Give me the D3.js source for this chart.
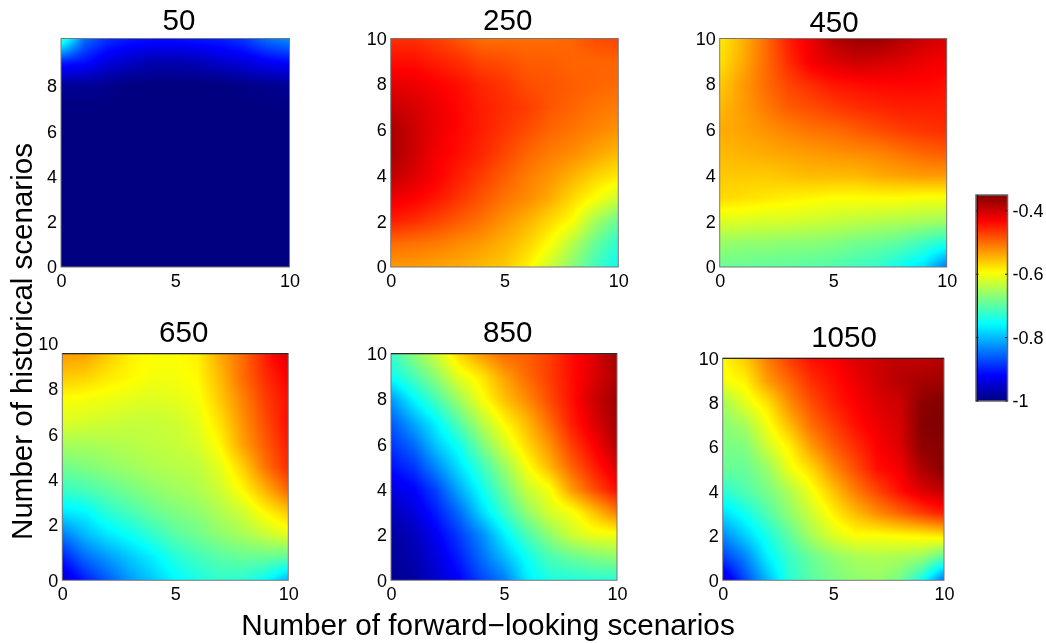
<!DOCTYPE html>
<html><head><meta charset="utf-8">
<script src="https://cdn.jsdelivr.net/npm/d3@7/dist/d3.min.js"></script>
<style>
html,body{margin:0;padding:0;background:#fff;overflow:hidden}
#wrap{position:relative;width:1046px;height:643px}
canvas{position:absolute;display:block}
svg{position:absolute;left:0;top:0}
text{font-family:"Liberation Sans",Arial,sans-serif;fill:#000}
</style></head><body><div id="wrap"></div>
<script>
// Rows run from y=10 (top) to y=0 (bottom); columns from x=0 to x=10.
const v50=[
[-.72,-.85,-.89,-.905,-.91,-.91,-.905,-.90,-.885,-.85,-.83],
[-.90,-.91,-.94,-.955,-.97,-.97,-.965,-.95,-.94,-.925,-.915],
[-.985,-.985,-.99,-1,-1,-1,-1,-1,-.995,-.99,-.985],
[-1,-1,-1,-1,-1,-1,-1,-1,-1,-1,-1],
[-1,-1,-1,-1,-1,-1,-1,-1,-1,-1,-1],
[-1,-1,-1,-1,-1,-1,-1,-1,-1,-1,-1],
[-1,-1,-1,-1,-1,-1,-1,-1,-1,-1,-1],
[-1,-1,-1,-1,-1,-1,-1,-1,-1,-1,-1],
[-1,-1,-1,-1,-1,-1,-1,-1,-1,-1,-1],
[-1,-1,-1,-1,-1,-1,-1,-1,-1,-1,-1],
[-1,-1,-1,-1,-1,-1,-1,-1,-1,-1,-1]];
const v250=[
[-.46,-.46,-.47,-.485,-.50,-.50,-.50,-.50,-.495,-.48,-.475],
[-.44,-.44,-.45,-.46,-.475,-.48,-.49,-.49,-.495,-.495,-.495],
[-.415,-.42,-.43,-.44,-.455,-.465,-.48,-.485,-.49,-.495,-.50],
[-.395,-.405,-.42,-.435,-.45,-.46,-.47,-.485,-.495,-.505,-.51],
[-.375,-.40,-.42,-.435,-.45,-.465,-.48,-.495,-.505,-.515,-.525],
[-.375,-.40,-.425,-.44,-.455,-.475,-.495,-.51,-.52,-.535,-.55],
[-.39,-.41,-.43,-.45,-.47,-.49,-.51,-.525,-.545,-.565,-.58],
[-.42,-.43,-.445,-.465,-.485,-.505,-.52,-.54,-.57,-.595,-.625],
[-.45,-.46,-.475,-.49,-.505,-.525,-.545,-.57,-.595,-.65,-.69],
[-.50,-.505,-.51,-.52,-.53,-.545,-.565,-.595,-.64,-.69,-.73],
[-.53,-.53,-.535,-.54,-.55,-.56,-.585,-.625,-.67,-.715,-.75]];
const v450=[
[-.58,-.545,-.50,-.45,-.42,-.385,-.37,-.37,-.385,-.40,-.41],
[-.575,-.54,-.50,-.46,-.425,-.41,-.40,-.405,-.41,-.42,-.425],
[-.56,-.53,-.50,-.475,-.46,-.445,-.44,-.435,-.435,-.435,-.44],
[-.55,-.53,-.51,-.49,-.48,-.47,-.46,-.455,-.45,-.45,-.45],
[-.54,-.535,-.525,-.515,-.505,-.50,-.49,-.48,-.47,-.465,-.46],
[-.55,-.545,-.54,-.535,-.53,-.525,-.52,-.515,-.505,-.495,-.49],
[-.56,-.56,-.56,-.555,-.55,-.55,-.55,-.54,-.535,-.53,-.53],
[-.57,-.575,-.58,-.585,-.59,-.595,-.595,-.595,-.595,-.60,-.60],
[-.615,-.615,-.62,-.62,-.625,-.63,-.635,-.64,-.645,-.65,-.655],
[-.66,-.665,-.665,-.67,-.67,-.675,-.685,-.69,-.70,-.72,-.74],
[-.69,-.69,-.695,-.695,-.70,-.705,-.715,-.725,-.75,-.775,-.84]];
const v650=[
[-.53,-.535,-.56,-.585,-.595,-.595,-.585,-.54,-.50,-.45,-.41],
[-.56,-.565,-.58,-.59,-.60,-.60,-.59,-.55,-.50,-.46,-.43],
[-.595,-.60,-.605,-.61,-.615,-.61,-.60,-.56,-.515,-.47,-.44],
[-.615,-.62,-.625,-.63,-.63,-.625,-.61,-.575,-.525,-.48,-.44],
[-.65,-.65,-.645,-.64,-.635,-.63,-.62,-.59,-.535,-.49,-.45],
[-.685,-.675,-.665,-.655,-.645,-.64,-.635,-.61,-.565,-.505,-.46],
[-.72,-.71,-.695,-.68,-.665,-.655,-.645,-.625,-.59,-.545,-.495],
[-.77,-.76,-.73,-.71,-.69,-.675,-.665,-.645,-.625,-.59,-.56],
[-.84,-.80,-.77,-.75,-.725,-.70,-.685,-.665,-.65,-.63,-.61],
[-.90,-.85,-.82,-.79,-.765,-.735,-.715,-.70,-.69,-.69,-.695],
[-.95,-.90,-.86,-.82,-.79,-.76,-.74,-.725,-.73,-.75,-.80]];
const v850=[
[-.72,-.67,-.625,-.57,-.53,-.50,-.49,-.47,-.44,-.41,-.37],
[-.75,-.71,-.665,-.61,-.58,-.535,-.50,-.47,-.44,-.41,-.38],
[-.82,-.76,-.71,-.655,-.60,-.555,-.52,-.48,-.44,-.40,-.37],
[-.86,-.81,-.76,-.70,-.64,-.59,-.55,-.50,-.45,-.41,-.375],
[-.885,-.85,-.79,-.745,-.68,-.62,-.57,-.525,-.47,-.43,-.385],
[-.91,-.885,-.83,-.775,-.72,-.66,-.60,-.55,-.495,-.45,-.41],
[-.94,-.92,-.875,-.81,-.75,-.69,-.63,-.60,-.53,-.48,-.44],
[-.965,-.94,-.90,-.85,-.78,-.72,-.665,-.62,-.60,-.555,-.51],
[-.98,-.96,-.925,-.88,-.83,-.765,-.71,-.665,-.625,-.605,-.60],
[-.985,-.97,-.94,-.90,-.85,-.80,-.75,-.71,-.69,-.675,-.665],
[-.99,-.98,-.95,-.92,-.875,-.84,-.77,-.74,-.735,-.73,-.73]];
const v1050=[
[-.59,-.56,-.51,-.47,-.44,-.43,-.41,-.40,-.39,-.395,-.385],
[-.60,-.585,-.53,-.495,-.46,-.44,-.42,-.40,-.385,-.375,-.37],
[-.65,-.61,-.575,-.52,-.48,-.45,-.43,-.41,-.40,-.36,-.35],
[-.67,-.65,-.60,-.55,-.50,-.47,-.44,-.42,-.405,-.355,-.35],
[-.68,-.675,-.625,-.585,-.53,-.49,-.46,-.43,-.41,-.36,-.355],
[-.69,-.69,-.66,-.605,-.57,-.52,-.48,-.44,-.425,-.38,-.355],
[-.73,-.705,-.68,-.645,-.60,-.555,-.51,-.475,-.44,-.41,-.39],
[-.775,-.745,-.705,-.665,-.625,-.585,-.55,-.52,-.495,-.47,-.45],
[-.83,-.785,-.74,-.695,-.65,-.615,-.595,-.595,-.59,-.585,-.575],
[-.88,-.835,-.765,-.72,-.69,-.665,-.65,-.645,-.65,-.66,-.70],
[-.95,-.87,-.80,-.73,-.70,-.68,-.665,-.66,-.68,-.74,-.84]];
const titles=["50","250","450","650","850","1050"];
const xTicks=[0,5,10];
const yTicks=[0,2,4,6,8,10];
const cbarTicks=[-1,-.8,-.6,-.4];
const cbarDomain=[-1,-.35];
const xLabel="Number of forward\u2212looking scenarios";
const yLabel="Number of historical scenarios";

const panels=[
 {t:titles[0],v:v50,x0:61,x1:289.5,y0:267,y1:38.5,tx:179,ty:30,yMax:10.1,yt:[0,2,4,6,8],shift:0},
 {t:titles[1],v:v250,x0:390.7,x1:618.3,y0:267,y1:38.5,tx:507.7,ty:30,yMax:10,yt:yTicks,shift:0},
 {t:titles[2],v:v450,x0:719.7,x1:946.7,y0:267,y1:38.5,tx:834,ty:32,yMax:10,yt:yTicks,shift:0},
 {t:titles[3],v:v650,x0:62.3,x1:288.3,y0:580.3,y1:353.7,tx:183.7,ty:342,yMax:10,yt:yTicks,shift:-10},
 {t:titles[4],v:v850,x0:391,x1:617,y0:580.3,y1:353.7,tx:507.7,ty:342,yMax:10,yt:yTicks,shift:0},
 {t:titles[5],v:v1050,x0:722.7,x1:944,y0:580.3,y1:358.3,tx:844,ty:347,yMax:10,yt:yTicks,shift:0}
];

function jet(t){
 const c=u=>Math.round(255*Math.max(0,Math.min(1,1.5-Math.abs(u))));
 return [c(4*t-3),c(4*t-2),c(4*t-1)];
}
const color=d3.scaleLinear().domain(cbarDomain).range([0,1]).clamp(true);

const wrap=d3.select("#wrap");
// Heat fields: shaded between the grid values, as with interpolated shading.
panels.forEach(p=>{
 const W=Math.round(p.x1-p.x0),H=Math.round(p.y0-p.y1);
 const cv=wrap.append("canvas").attr("width",W).attr("height",H)
   .style("left",p.x0+"px").style("top",p.y1+"px")
   .style("width",(p.x1-p.x0)+"px").style("height",(p.y0-p.y1)+"px").node();
 const ctx=cv.getContext("2d"),img=ctx.createImageData(W,H);
 const gx=d3.scaleLinear().domain([0,W-1]).range([0,10]);
 const gy=d3.scaleLinear().domain([0,H-1]).range([0,10]);
 for(let j=0;j<H;j++){
  const fy=gy(j),r=Math.min(9,Math.floor(fy)),b=fy-r;
  for(let i=0;i<W;i++){
   const fx=gx(i),q=Math.min(9,Math.floor(fx)),a=fx-q;
   const val=(1-b)*((1-a)*p.v[r][q]+a*p.v[r][q+1])+b*((1-a)*p.v[r+1][q]+a*p.v[r+1][q+1]);
   const [R,G,B]=jet(color(val)),k=4*(j*W+i);
   img.data[k]=R;img.data[k+1]=G;img.data[k+2]=B;img.data[k+3]=255;
  }
 }
 ctx.putImageData(img,0,0);
});

const svg=wrap.append("svg").attr("width",1046).attr("height",643);
panels.forEach(p=>{
 const x=d3.scaleLinear().domain([0,10]).range([p.x0,p.x1]);
 const y=d3.scaleLinear().domain([0,p.yMax]).range([p.y0,p.y1]);
 const g=svg.append("g");
 g.append("rect").attr("x",p.x0).attr("y",p.y1).attr("width",p.x1-p.x0).attr("height",p.y0-p.y1)
  .attr("fill","none").attr("stroke","#777").attr("stroke-width",1);
 const ax=g.append("g").attr("transform",`translate(0,${p.y0})`)
  .call(d3.axisBottom(x).tickValues(xTicks).tickSize(0).tickPadding(7));
 ax.select(".domain").remove();
 ax.selectAll("text").style("font-size","18px").attr("fill","#000");
 const ay=g.append("g").attr("transform",`translate(${p.x0},0)`)
  .call(d3.axisLeft(y).tickValues(p.yt).tickSize(0).tickPadding(4));
 ay.select(".domain").remove();
 ay.selectAll("text").style("font-size","18px").attr("fill","#000")
  .attr("transform",d=>d>0?`translate(0,${p.shift})`:null);
 g.append("text").attr("x",p.tx).attr("y",p.ty).attr("text-anchor","middle")
  .style("font-size","29.5px").text(p.t);
 if(p.y1>300){
  g.append("line").attr("x1",p.x0).attr("x2",p.x1).attr("y1",p.y1).attr("y2",p.y1)
   .attr("stroke","#111").attr("stroke-width",1);
 }
});
svg.append("text").attr("x",488).attr("y",635).attr("text-anchor","middle")
 .style("font-size","29.75px").text(xLabel);
svg.append("text").attr("transform","translate(32,341.5) rotate(-90)").attr("text-anchor","middle")
 .style("font-size","29.5px").text(yLabel);

// Colour bar
const cb={x0:976,x1:1007.5,y0:401,y1:195};
const cy=d3.scaleLinear().domain(cbarDomain).range([cb.y0,cb.y1]);
const defs=svg.append("defs");
const grad=defs.append("linearGradient").attr("id","jetgrad").attr("x1",0).attr("x2",0).attr("y1",1).attr("y2",0);
d3.range(0,1.0001,.125).forEach(t=>{
 const c=jet(t);
 grad.append("stop").attr("offset",t).attr("stop-color",`rgb(${c})`);
});
svg.append("rect").attr("x",cb.x0).attr("y",cb.y1).attr("width",cb.x1-cb.x0).attr("height",cb.y0-cb.y1)
 .attr("fill","url(#jetgrad)").attr("stroke","#666").attr("stroke-width",1.5);
svg.append("line").attr("x1",cb.x0+1.5).attr("x2",cb.x0+1.5).attr("y1",cb.y1).attr("y2",cb.y0)
 .attr("stroke","#111").attr("stroke-width",1);
const cax=svg.append("g").attr("transform",`translate(${cb.x1},0)`)
 .call(d3.axisRight(cy).tickValues(cbarTicks).tickFormat(d=>String(d)).tickSize(0).tickPadding(5));
cax.select(".domain").remove();
cax.selectAll("text").style("font-size","18px").attr("fill","#000");
svg.append("g").selectAll("line").data(cbarTicks).join("line")
 .attr("x1",cb.x1-2.5).attr("x2",cb.x1).attr("y1",d=>cy(d)).attr("y2",d=>cy(d)).attr("stroke","#222");
svg.append("g").selectAll("line").data(cbarTicks).join("line")
 .attr("x1",cb.x0).attr("x2",cb.x0+2.5).attr("y1",d=>cy(d)).attr("y2",d=>cy(d)).attr("stroke","#222");
</script></body></html>
